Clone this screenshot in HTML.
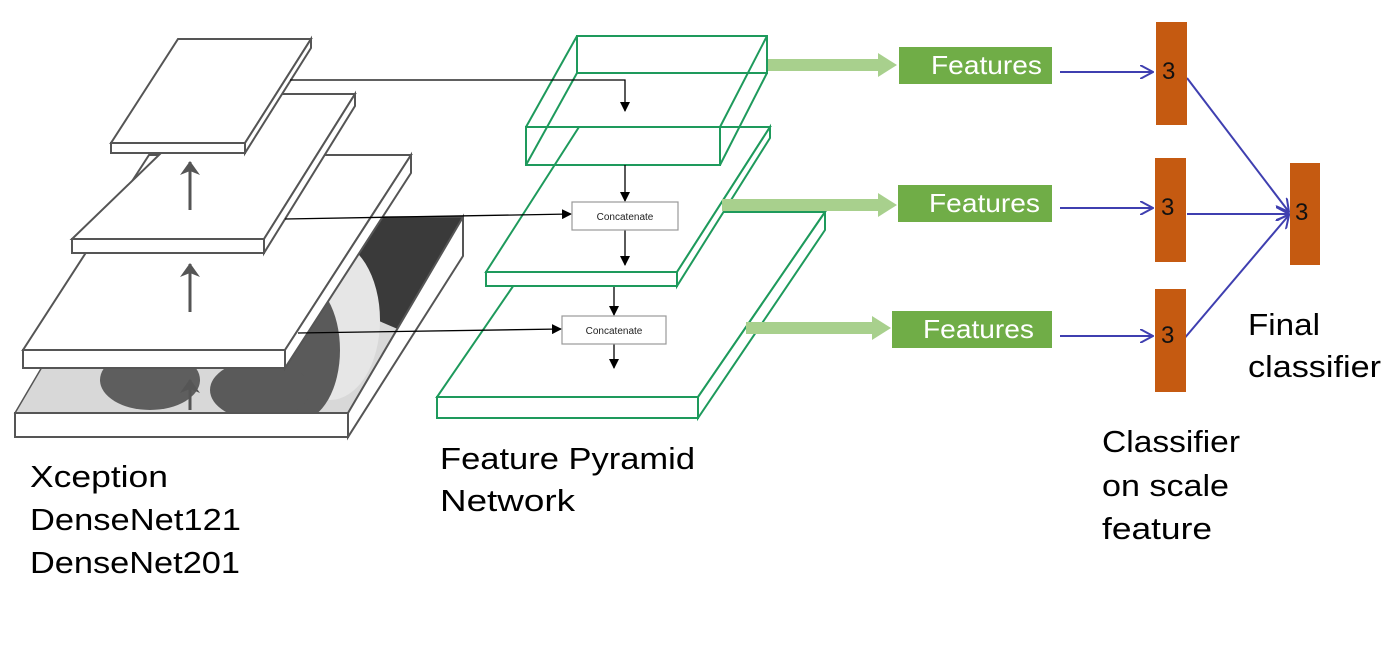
<!DOCTYPE html>
<html><head><meta charset="utf-8"><style>
html,body{margin:0;padding:0;background:#fff;}
svg{display:block;}
text{font-family:"Liberation Sans",sans-serif;}
</style></head><body>
<svg width="1400" height="650" viewBox="0 0 1400 650" xmlns="http://www.w3.org/2000/svg">
<defs>
<marker id="ab" markerWidth="10" markerHeight="10" refX="9" refY="5" orient="auto" markerUnits="userSpaceOnUse"><path d="M0,0 L10,5 L0,10 z" fill="#000"/></marker>
<marker id="ag" markerWidth="14" markerHeight="20" refX="13" refY="10" orient="auto" markerUnits="userSpaceOnUse"><path d="M0,0 L14,10 L0,20 L4,10 z" fill="#555"/></marker>
<marker id="abl" markerWidth="14" markerHeight="14" refX="13" refY="7" orient="auto" markerUnits="userSpaceOnUse"><path d="M0,0 L13,7 L0,14" fill="none" stroke="#3f3fb0" stroke-width="2"/></marker>
<clipPath id="img"><polygon points="130,217 463,217 348,413 15,413"/></clipPath>
</defs>

<g clip-path="url(#img)">
<rect x="0" y="210" width="470" height="210" fill="#d8d8d8"/>
<polygon points="350,217 463,217 400,330 330,300" fill="#3a3a3a"/>
<ellipse cx="330" cy="320" rx="50" ry="80" fill="#e6e6e6"/>
<ellipse cx="300" cy="350" rx="40" ry="70" fill="#5a5a5a"/>
<ellipse cx="150" cy="380" rx="50" ry="30" fill="#5e5e5e"/>
<ellipse cx="260" cy="390" rx="50" ry="30" fill="#5a5a5a"/>
</g>
<polygon points="130,217 463,217 348,413 15,413" fill="none" stroke="#555" stroke-width="1.5"/>
<rect x="15" y="413" width="333" height="24" fill="#fff" stroke="#555" stroke-width="2"/>
<polygon points="463,217 463,256 348,437 348,413" fill="#fff" stroke="#555" stroke-width="2"/>

<polygon points="149,155 411,155 285,350 23,350" fill="#fff" stroke="#555" stroke-width="2"/>
<rect x="23" y="350" width="262" height="18" fill="#fff" stroke="#555" stroke-width="2"/>
<polygon points="411,155 411,173 285,368 285,350" fill="#fff" stroke="#555" stroke-width="2"/>
<polygon points="222,94 355,94 264,239 72,239" fill="#fff" stroke="#555" stroke-width="2"/>
<rect x="72" y="239" width="192" height="14" fill="#fff" stroke="#555" stroke-width="2"/>
<polygon points="355,94 355,106 264,253 264,239" fill="#fff" stroke="#555" stroke-width="2"/>
<polygon points="178,39 311,39 245,143 111,143" fill="#fff" stroke="#555" stroke-width="2"/>
<rect x="111" y="143" width="134" height="10" fill="#fff" stroke="#555" stroke-width="2"/>
<polygon points="311,39 311,48 245,153 245,143" fill="#fff" stroke="#555" stroke-width="2"/>

<line x1="190" y1="210" x2="190" y2="162" stroke="#555" stroke-width="3" marker-end="url(#ag)"/>
<line x1="190" y1="312" x2="190" y2="264" stroke="#555" stroke-width="3" marker-end="url(#ag)"/>
<line x1="190" y1="410" x2="190" y2="380" stroke="#555" stroke-width="3" marker-end="url(#ag)"/>

<g fill="none" stroke="#1e9a5c" stroke-width="2">
<polygon points="564,212 825,212 698,397 437,397" fill="#fff"/>
<rect x="437" y="397" width="261" height="21" fill="#fff"/>
<polygon points="825,212 825,230 698,418 698,397" fill="#fff"/>
<polygon points="579,127 770,127 677,272 486,272" fill="#fff"/>
<rect x="486" y="272" width="191" height="14" fill="#fff"/>
<polygon points="770,127 770,138 677,286 677,272" fill="#fff"/>
<rect x="577" y="36" width="190" height="37" fill="#fff"/>
<line x1="577" y1="36" x2="526" y2="127"/>
<line x1="767" y1="36" x2="720" y2="127"/>
<line x1="577" y1="73" x2="526" y2="165"/>
<line x1="767" y1="73" x2="720" y2="165"/>
<rect x="526" y="127" width="194" height="38"/>
</g>

<g stroke="#000" stroke-width="1.3" fill="none">
<polyline points="290,80 625,80 625,111" marker-end="url(#ab)"/>
<line x1="625" y1="165" x2="625" y2="201" marker-end="url(#ab)"/>
<line x1="285" y1="219" x2="571" y2="214" marker-end="url(#ab)"/>
<line x1="625" y1="230" x2="625" y2="265" marker-end="url(#ab)"/>
<line x1="614" y1="287" x2="614" y2="315" marker-end="url(#ab)"/>
<line x1="298" y1="333" x2="561" y2="329" marker-end="url(#ab)"/>
<line x1="614" y1="344" x2="614" y2="368" marker-end="url(#ab)"/>
</g>
<rect x="572" y="202" width="106" height="28" fill="#fff" stroke="#999" stroke-width="1.2"/>
<text x="625" y="220" font-size="10" text-anchor="middle" fill="#222">Concatenate</text>
<rect x="562" y="316" width="104" height="28" fill="#fff" stroke="#999" stroke-width="1.2"/>
<text x="614" y="334" font-size="10" text-anchor="middle" fill="#222">Concatenate</text>

<g fill="#a8d08d">
<rect x="768" y="59" width="112" height="12"/><polygon points="878,53 897,65 878,77"/>
<rect x="722" y="199" width="158" height="12"/><polygon points="878,193 897,205 878,217"/>
<rect x="746" y="322" width="128" height="12"/><polygon points="872,316 891,328 872,340"/>
</g>
<g fill="#70ad47">
<rect x="899" y="47" width="153" height="37"/>
<rect x="898" y="185" width="154" height="37"/>
<rect x="892" y="311" width="160" height="37"/>
</g>
<g fill="#fff" font-size="26">
<text x="931" y="74" textLength="111" lengthAdjust="spacingAndGlyphs">Features</text>
<text x="929" y="212" textLength="111" lengthAdjust="spacingAndGlyphs">Features</text>
<text x="923" y="338" textLength="111" lengthAdjust="spacingAndGlyphs">Features</text>
</g>

<g stroke="#3f3fb0" stroke-width="2" fill="none">
<line x1="1060" y1="72" x2="1153" y2="72" marker-end="url(#abl)"/>
<line x1="1060" y1="208" x2="1153" y2="208" marker-end="url(#abl)"/>
<line x1="1060" y1="336" x2="1153" y2="336" marker-end="url(#abl)"/>
<line x1="1187" y1="78" x2="1289" y2="212" marker-end="url(#abl)"/>
<line x1="1187" y1="214" x2="1289" y2="214" marker-end="url(#abl)"/>
<line x1="1183" y1="340" x2="1289" y2="215" marker-end="url(#abl)"/>
</g>
<g fill="#c55a11">
<rect x="1156" y="22" width="31" height="103"/>
<rect x="1155" y="158" width="31" height="104"/>
<rect x="1155" y="289" width="31" height="103"/>
<rect x="1290" y="163" width="30" height="102"/>
</g>
<g font-size="24" fill="#111">
<text x="1162" y="79">3</text>
<text x="1161" y="215">3</text>
<text x="1161" y="343">3</text>
<text x="1295" y="220">3</text>
</g>

<g font-size="31" fill="#000">
<text x="30" y="487" textLength="138" lengthAdjust="spacingAndGlyphs">Xception</text>
<text x="30" y="530" textLength="211" lengthAdjust="spacingAndGlyphs">DenseNet121</text>
<text x="30" y="573" textLength="210" lengthAdjust="spacingAndGlyphs">DenseNet201</text>
<text x="440" y="469" textLength="255" lengthAdjust="spacingAndGlyphs">Feature Pyramid</text>
<text x="440" y="511" textLength="135" lengthAdjust="spacingAndGlyphs">Network</text>
<text x="1102" y="452" textLength="138" lengthAdjust="spacingAndGlyphs">Classifier</text>
<text x="1102" y="496" textLength="127" lengthAdjust="spacingAndGlyphs">on scale</text>
<text x="1102" y="539" textLength="110" lengthAdjust="spacingAndGlyphs">feature</text>
<text x="1248" y="335" textLength="72" lengthAdjust="spacingAndGlyphs">Final</text>
<text x="1248" y="377" textLength="133" lengthAdjust="spacingAndGlyphs">classifier</text>
</g>
</svg>
</body></html>
